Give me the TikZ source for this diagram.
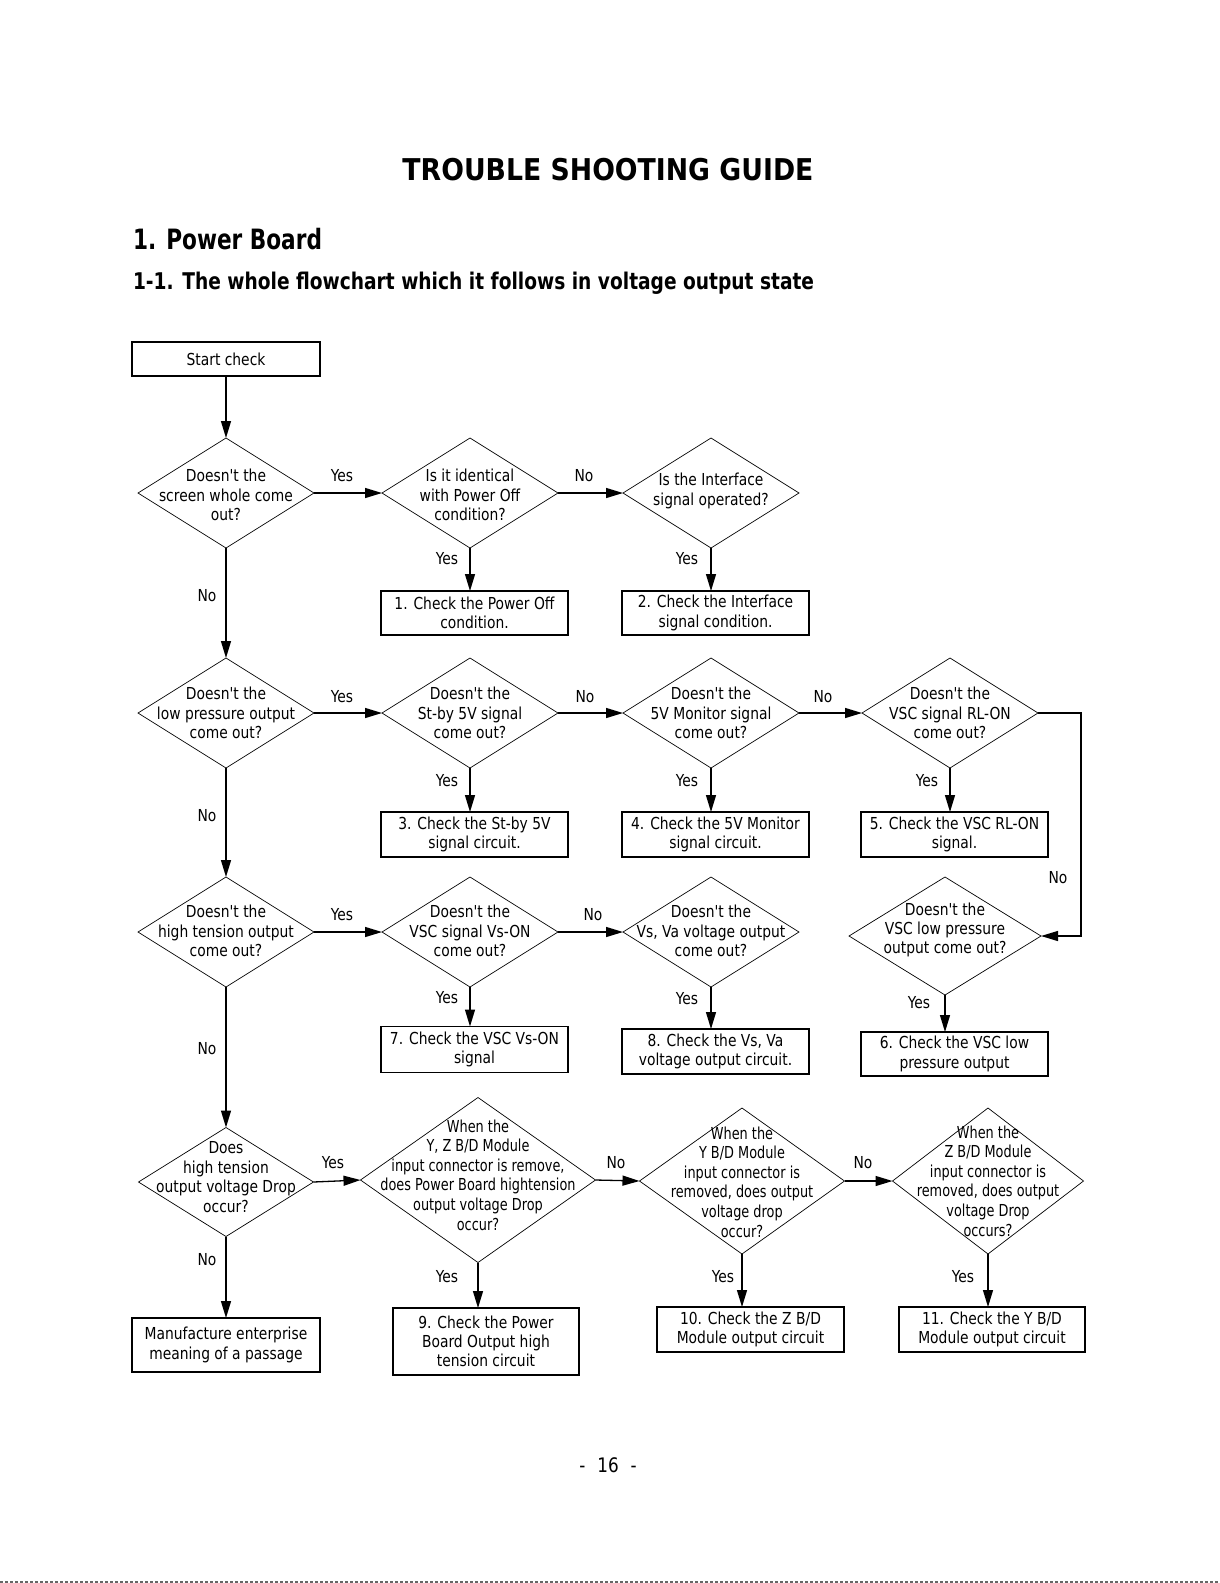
\documentclass[tikz,border=0pt]{standalone}
\usepackage{fontspec}
\usepackage{graphicx}
\setmainfont{DejaVu Sans}[FakeStretch=0.84]
\newfontfamily\mfont{DejaVu Sans}[FakeStretch=0.84]
\newfontfamily\narrowfont{DejaVu Sans}[FakeStretch=0.78]
\usetikzlibrary{shapes.geometric,arrows.meta}
\begin{document}
\begin{tikzpicture}[x=1pt,y=-1pt,
  every node/.style={inner sep=0pt, outer sep=0pt},
  dia/.style={draw, diamond, line width=0.7pt, minimum width=176pt, minimum height=110pt},
  txt/.style={align=center, font=\mfont\fontsize{16.5}{19.2}\selectfont},
  ntxt/.style={align=center, font=\narrowfont\fontsize{16.5}{19.6}\selectfont},
  box/.style={draw, line width=1.2pt, minimum width=187pt, minimum height=44pt, align=center, font=\mfont\fontsize{16.5}{19.2}\selectfont},
  lbl/.style={font=\mfont\fontsize{16.5}{19.2}\selectfont},
  arr/.style={line width=1.3pt, -{Triangle[length=17pt,width=10pt]}}
  ]
\fill[white] (0,0) rectangle (1220,1583);
\useasboundingbox (0,0) rectangle (1220,1583);

% headings
\node[anchor=base, font=\bfseries\fontsize{30}{36}\selectfont] (title) at (608,180) {\resizebox{411pt}{\height}{TROUBLE SHOOTING GUIDE}};
\node[anchor=base west, font=\bfseries\fontsize{28}{34}\selectfont] (h1) at (133,249) {\resizebox{189pt}{\height}{1. Power Board}};
\node[anchor=base west, font=\bfseries\fontsize{23}{28}\selectfont] (h2) at (133,289) {\resizebox{681pt}{\height}{1-1. The whole flowchart which it follows in voltage output state}};

% row 0
\node[box, minimum width=188pt, minimum height=34pt] (start) at (226,359) {Start check};

% row 1
\node[dia] (d1) at (226,493) {};
\node[txt] (d1t) at (226,495) {Doesn't the\\screen whole come\\out?};
\node[dia] (d2) at (470,493) {};
\node[txt] (d2t) at (470,495) {Is it identical\\with Power Off\\condition?};
\node[dia] (d3) at (711,493) {};
\node[txt] (d3t) at (711,491) {Is the Interface\\signal operated?};
\node[box] (b1) at (474.5,613) {1. Check the Power Off\\condition.};
\node[box] (b2) at (715.5,613) {2. Check the Interface\\signal condition.};

% row 2
\node[dia] (d4) at (226,713) {};
\node[txt] (d4t) at (226,713) {Doesn't the\\low pressure output\\come out?};
\node[dia] (d5) at (470,713) {};
\node[txt] (d5t) at (470,713) {Doesn't the\\St-by 5V signal\\come out?};
\node[dia] (d6) at (711,713) {};
\node[txt] (d6t) at (711,713) {Doesn't the\\5V Monitor signal\\come out?};
\node[dia] (d7) at (950,713) {};
\node[txt] (d7t) at (950,713) {Doesn't the\\VSC signal RL-ON\\come out?};
\node[box, minimum height=45pt] (b3) at (474.5,834.5) {3. Check the St-by 5V\\signal circuit.};
\node[box, minimum height=45pt] (b4) at (715.5,834.5) {4. Check the 5V Monitor\\signal circuit.};
\node[box, minimum height=45pt] (b5) at (954.5,834.5) {5. Check the VSC RL-ON\\signal.};

% row 3
\node[dia] (d8) at (226,932) {};
\node[txt] (d8t) at (226,931) {Doesn't the\\high tension output\\come out?};
\node[dia] (d9) at (470,932) {};
\node[txt] (d9t) at (470,931) {Doesn't the\\VSC signal Vs-ON\\come out?};
\node[dia] (d10) at (711,932) {};
\node[txt] (d10t) at (711,931) {Doesn't the\\Vs, Va voltage output\\come out?};
\node[dia, minimum width=192pt, minimum height=118pt] (d11) at (945,936) {};
\node[txt] (d11t) at (945,930) {Doesn't the\\VSC low pressure\\output come out?};
\node[box, minimum height=46pt] (b7) at (474.5,1049.5) {7. Check the VSC Vs-ON\\signal};
\node[box, minimum height=45pt] (b8) at (715.5,1051.5) {8. Check the Vs, Va\\voltage output circuit.};
\node[box] (b6) at (954.5,1054) {6. Check the VSC low\\pressure output};

% row 4
\node[dia, minimum width=175pt, minimum height=109pt] (d12) at (226,1182) {};
\node[txt, font=\mfont\fontsize{16.5}{19.7}\selectfont] (d12t) at (226,1177) {Does\\high tension\\output voltage Drop\\occur?};
\node[dia, minimum width=235pt, minimum height=165pt] (d13) at (478,1180) {};
\node[ntxt] (d13t) at (478,1175) {When the\\Y, Z B/D Module\\input connector is remove,\\does Power Board hightension\\output voltage Drop\\occur?};
\node[dia, minimum width=205pt, minimum height=146pt] (d14) at (742,1181) {};
\node[ntxt] (d14t) at (742,1182) {When the\\Y B/D Module\\input connector is\\removed, does output\\voltage drop\\occur?};
\node[dia, minimum width=191pt, minimum height=146pt] (d15) at (988,1181) {};
\node[ntxt] (d15t) at (988,1181) {When the\\Z B/D Module\\input connector is\\removed, does output\\voltage Drop\\occurs?};
\node[box, minimum width=188pt, minimum height=54pt] (bM) at (226,1345) {Manufacture enterprise\\meaning of a passage};
\node[box, minimum width=186pt, minimum height=67pt] (b9) at (486,1341.5) {9. Check the Power\\Board Output high\\tension circuit};
\node[box, minimum height=45pt] (b10) at (750.5,1329.5) {10. Check the Z B/D\\Module output circuit};
\node[box, minimum width=186pt, minimum height=45pt] (b11) at (992,1329.5) {11. Check the Y B/D\\Module output circuit};

% connectors column 1
\draw[arr] (start.south) -- (d1.north);
\draw[arr] (d1.south) -- (d4.north);
\draw[arr] (d4.south) -- (d8.north);
\draw[arr] (d8.south) -- (d12.north);
\draw[arr] (d12.south) -- (bM.north);

% horizontal
\draw[arr] (d1.east) -- (d2.west);
\draw[arr] (d2.east) -- (d3.west);
\draw[arr] (d4.east) -- (d5.west);
\draw[arr] (d5.east) -- (d6.west);
\draw[arr] (d6.east) -- (d7.west);
\draw[arr] (d8.east) -- (d9.west);
\draw[arr] (d9.east) -- (d10.west);
\draw[arr] (d12.east) -- (d13.west);
\draw[arr] (d13.east) -- (d14.west);
\draw[arr] (d14.east) -- (d15.west);

% vertical to boxes
\draw[arr] (d2.south) -- (d2.south |- b1.north);
\draw[arr] (d3.south) -- (d3.south |- b2.north);
\draw[arr] (d5.south) -- (d5.south |- b3.north);
\draw[arr] (d6.south) -- (d6.south |- b4.north);
\draw[arr] (d7.south) -- (d7.south |- b5.north);
\draw[arr] (d9.south) -- (d9.south |- b7.north);
\draw[arr] (d10.south) -- (d10.south |- b8.north);
\draw[arr] (d11.south) -- (d11.south |- b6.north);
\draw[arr] (d13.south) -- (d13.south |- b9.north);
\draw[arr] (d14.south) -- (d14.south |- b10.north);
\draw[arr] (d15.south) -- (d15.south |- b11.north);

% RL-ON loop
\coordinate (rc) at (1081,800);
\draw[arr] (d7.east) -- (d7.east -| rc) -- (rc |- d11.east) -- (d11.east);

% labels
\node[lbl] (l1) at (342,476) {Yes};
\node[lbl] (l2) at (584,476) {No};
\node[lbl] (l3) at (447,559) {Yes};
\node[lbl] (l4) at (687,559) {Yes};
\node[lbl] (l5) at (207,596) {No};
\node[lbl] (l6) at (342,697) {Yes};
\node[lbl] (l7) at (585,697) {No};
\node[lbl] (l8) at (823,697) {No};
\node[lbl] (l9) at (447,781) {Yes};
\node[lbl] (l10) at (687,781) {Yes};
\node[lbl] (l11) at (927,781) {Yes};
\node[lbl] (l12) at (207,816) {No};
\node[lbl] (l13) at (1058,878) {No};
\node[lbl] (l14) at (342,915) {Yes};
\node[lbl] (l15) at (593,915) {No};
\node[lbl] (l16) at (447,998) {Yes};
\node[lbl] (l17) at (687,999) {Yes};
\node[lbl] (l18) at (919,1003) {Yes};
\node[lbl] (l19) at (207,1049) {No};
\node[lbl] (l20) at (333,1163) {Yes};
\node[lbl] (l21) at (616,1163) {No};
\node[lbl] (l22) at (863,1163) {No};
\node[lbl] (l23) at (207,1260) {No};
\node[lbl] (l24) at (447,1277) {Yes};
\node[lbl] (l25) at (723,1277) {Yes};
\node[lbl] (l26) at (963,1277) {Yes};

% page number
\node[anchor=base, font=\mfont\fontsize{20}{24}\selectfont] (pg) at (608,1472) {-\hspace{12pt}16\hspace{12pt}-};

% scan edge
\draw[black!60, line width=1.5pt, dash pattern=on 3pt off 2pt] (0,1582) -- (1220,1582);
\end{tikzpicture}
\end{document}
